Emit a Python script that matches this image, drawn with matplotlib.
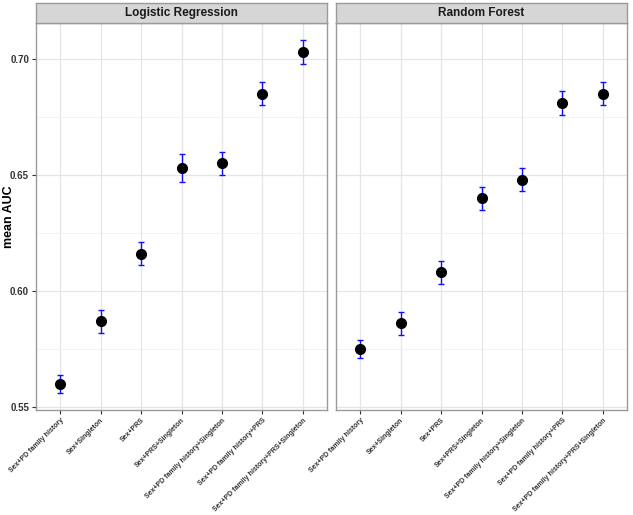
import matplotlib
matplotlib.use("Agg")
import matplotlib.pyplot as plt
import numpy as np

plt.rcParams['font.family'] = ['Liberation Sans', 'DejaVu Sans']

categories = ["Sex+PD family history", "Sex+Singleton", "Sex+PRS", "Sex+PRS+Singleton",
              "Sex+PD family history+Singleton", "Sex+PD family history+PRS",
              "Sex+PD family history+PRS+Singleton"]
panels = ["Logistic Regression", "Random Forest"]
lr_mean = [0.560, 0.587, 0.616, 0.653, 0.655, 0.685, 0.703]
lr_low = [0.556, 0.582, 0.611, 0.647, 0.650, 0.680, 0.698]
lr_high = [0.564, 0.592, 0.621, 0.659, 0.660, 0.690, 0.708]
rf_mean = [0.575, 0.586, 0.608, 0.640, 0.648, 0.681, 0.685]
rf_low = [0.571, 0.581, 0.603, 0.635, 0.643, 0.676, 0.680]
rf_high = [0.579, 0.591, 0.613, 0.645, 0.653, 0.686, 0.690]
yticks = [0.55, 0.60, 0.65, 0.70]

W, H = 633, 515
fig = plt.figure(figsize=(W/100, H/100), dpi=100)
panel_x = [(36, 327), (336, 627)]
top, bottom, strip_top = 23, 410, 3
data = [(lr_mean, lr_low, lr_high), (rf_mean, rf_low, rf_high)]
x = np.arange(1, len(categories) + 1)
for i, ((x0, x1), name, (m, lo, hi)) in enumerate(zip(panel_x, panels, data)):
    ax = fig.add_axes([x0/W, 1 - bottom/H, (x1-x0)/W, (bottom-top)/H])
    ax.set_facecolor('white')
    ax.set_xlim(0.4, 7.6)
    ax.set_ylim(0.5487, 0.7155)
    ax.set_yticks(yticks)
    ax.set_yticks([0.575, 0.625, 0.675], minor=True)
    ax.set_xticks(x)
    ax.grid(True, which='major', color='#E5E5E5', linewidth=0.9)
    ax.grid(True, which='minor', axis='y', color='#F0F0F0', linewidth=0.6)
    ax.set_axisbelow(True)
    m = np.array(m); lo = np.array(lo); hi = np.array(hi)
    ax.errorbar(x, m, yerr=[m - lo, hi - m], fmt='none', ecolor='#1010FF',
                elinewidth=1.0, capsize=2.0, capthick=1.0, zorder=2)
    ax.plot(x, m, 'o', color='black', markersize=7, zorder=3)
    for s in ax.spines.values():
        s.set_color('#9A9A9A'); s.set_linewidth(1.0)
    ax.tick_params(axis='both', which='major', length=3, color='#333333', width=0.8, pad=2)
    ax.tick_params(axis='y', which='minor', length=0)
    ax.set_xticklabels(categories, rotation=45, ha='right', va='top',
                       rotation_mode='anchor', fontsize=5.0, fontweight='bold',
                       color='#333333')
    if i == 0:
        ax.set_yticklabels([f"{v:.2f}" for v in yticks], fontsize=7, fontweight='bold',
                           color='#333333')
    else:
        ax.set_yticklabels([])
        ax.tick_params(axis='y', which='major', length=0)
    sax = fig.add_axes([x0/W, 1 - top/H, (x1-x0)/W, (top-strip_top)/H])
    sax.set_facecolor('#D6D6D6')
    sax.set_xticks([]); sax.set_yticks([])
    for s in sax.spines.values():
        s.set_color('#9A9A9A'); s.set_linewidth(1.0)
    sax.text(0.5, 0.5, name, ha='center', va='center', fontsize=8.5, fontweight='bold',
             color='#1A1A1A', transform=sax.transAxes)

fig.text(9/W, 1 - 217/H, "mean AUC", rotation=90, ha='center', va='center',
         fontsize=9, fontweight='bold', color='black')

fig.savefig("out.png", dpi=100, facecolor='white')
